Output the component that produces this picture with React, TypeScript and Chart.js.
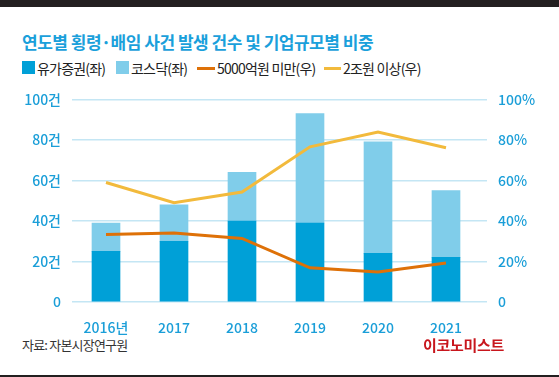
import React, { useEffect, useRef } from "react";
import { Chart, registerables } from "chart.js";

Chart.register(...registerables);

const years = ["2016년", "2017", "2018", "2019", "2020", "2021"];
const kospi = [25, 30, 40, 39, 24, 22];
const kosdaq = [14, 18, 24, 54, 55, 33];
const small = [33.3, 34.1, 31.4, 16.9, 14.8, 19.2];
const large = [59, 49, 54.3, 76.6, 83.9, 76.1];
const leftTicks = [0, 20, 40, 60, 80, 100];

const FONT = "'Noto Sans CJK KR', 'Noto Sans', sans-serif";
const TICK = "#1a9ed8";
const GRID = "#c4e6f4";

export default function App() {
  const ref = useRef<HTMLCanvasElement | null>(null);

  useEffect(() => {
    document.body.style.margin = "0";
    const ctx = ref.current!;
    const chart = new Chart(ctx, {
      type: "bar",
      data: {
        labels: years,
        datasets: [
          { type: "bar", label: "유가증권(좌)", data: kospi, backgroundColor: "#00a0d7", stack: "s", order: 2, yAxisID: "y" },
          { type: "bar", label: "코스닥(좌)", data: kosdaq, backgroundColor: "#80cdea", stack: "s", order: 2, yAxisID: "y" },
          { type: "line", label: "5000억원 미만(우)", data: small, borderColor: "#de7108", backgroundColor: "#de7108", borderWidth: 3, pointRadius: 0, tension: 0, order: 1, yAxisID: "y1" },
          { type: "line", label: "2조원 이상(우)", data: large, borderColor: "#f2ba3c", backgroundColor: "#f2ba3c", borderWidth: 3, pointRadius: 0, tension: 0, order: 1, yAxisID: "y1" },
        ] as any,
      },
      options: {
        animation: false,
        responsive: false,
        maintainAspectRatio: false,
        layout: { padding: { top: 17, left: 0, right: 0, bottom: 0 } },
        datasets: { bar: { barThickness: 28 } } as any,
        plugins: { legend: { display: false }, title: { display: false }, tooltip: { enabled: false } },
        scales: {
          x: {
            stacked: true,
            grid: { display: false },
            border: { display: false },
            ticks: { color: TICK, font: { family: FONT, size: 14, weight: "500" }, padding: 9 },
            afterFit: (s: any) => { s.height = 33; },
          },
          y: {
            stacked: true,
            min: 0,
            max: 100,
            position: "left",
            afterBuildTicks: (s: any) => { s.ticks = leftTicks.map((v) => ({ value: v })); },
            grid: { color: GRID, lineWidth: 1.5, drawTicks: false },
            border: { display: false },
            ticks: {
              color: TICK,
              font: { family: FONT, size: 14, weight: "500" },
              padding: 11,
              callback: (v: any) => (v === 0 ? "0" : v + "건"),
            },
            afterFit: (s: any) => { s.width = 72; },
          },
          y1: {
            stacked: false,
            min: 0,
            max: 100,
            position: "right",
            afterBuildTicks: (s: any) => { s.ticks = leftTicks.map((v) => ({ value: v })); },
            grid: { color: GRID, lineWidth: 1.5, drawOnChartArea: false, drawTicks: true, tickLength: 7 },
            border: { display: false },
            ticks: {
              color: TICK,
              font: { family: FONT, size: 14, weight: "500" },
              padding: 11,
              callback: (v: any) => (v === 0 ? "0" : v + "%"),
            },
            afterFit: (s: any) => { s.width = 79; },
          },
        },
      } as any,
    });
    return () => chart.destroy();
  }, []);

  const legendText: React.CSSProperties = {
    position: "absolute",
    top: 58,
    fontSize: 14,
    lineHeight: "20px",
    color: "#222",
    letterSpacing: "-0.8px",
    whiteSpace: "nowrap",
  };

  return (
    <div style={{ position: "absolute", left: 0, top: 0, width: 559, height: 377, background: "#fff", fontFamily: FONT, overflow: "hidden" }}>
      <div style={{ position: "absolute", left: 0, top: 0, width: 559, height: 7, background: "#231f20" }} />
      <div style={{ position: "absolute", left: 22, top: 31, fontSize: 17, lineHeight: "22px", fontWeight: 700, color: "#1aa0db", letterSpacing: "-0.5px", whiteSpace: "nowrap" }}>
        연도별 횡령·배임 사건 발생 건수 및 기업규모별 비중
      </div>
      <div style={{ position: "absolute", left: 22, top: 61, width: 13, height: 13, background: "#00a0d7" }} />
      <div style={{ ...legendText, left: 37 }}>유가증권(좌)</div>
      <div style={{ position: "absolute", left: 116, top: 61, width: 13, height: 13, background: "#80cdea" }} />
      <div style={{ ...legendText, left: 131 }}>코스닥(좌)</div>
      <div style={{ position: "absolute", left: 197, top: 67, width: 18, height: 3, background: "#de7108" }} />
      <div style={{ ...legendText, left: 217 }}>5000억원 미만(우)</div>
      <div style={{ position: "absolute", left: 324, top: 67, width: 17, height: 3, background: "#f2ba3c" }} />
      <div style={{ ...legendText, left: 343 }}>2조원 이상(우)</div>
      <canvas ref={ref} width={559} height={255} style={{ position: "absolute", left: 0, top: 80, width: 559, height: 255 }} />
      <div style={{ position: "absolute", left: 22, top: 336, fontSize: 13, lineHeight: "18px", color: "#333", letterSpacing: "-0.8px", whiteSpace: "nowrap" }}>
        자료: 자본시장연구원
      </div>
      <div style={{ position: "absolute", left: 423, top: 335, fontSize: 15, lineHeight: "20px", fontWeight: 700, color: "#c8161d", letterSpacing: "-0.3px", whiteSpace: "nowrap" }}>
        이코노미스트
      </div>
      <div style={{ position: "absolute", left: 0, top: 375, width: 559, height: 2, background: "#231f20" }} />
    </div>
  );
}
